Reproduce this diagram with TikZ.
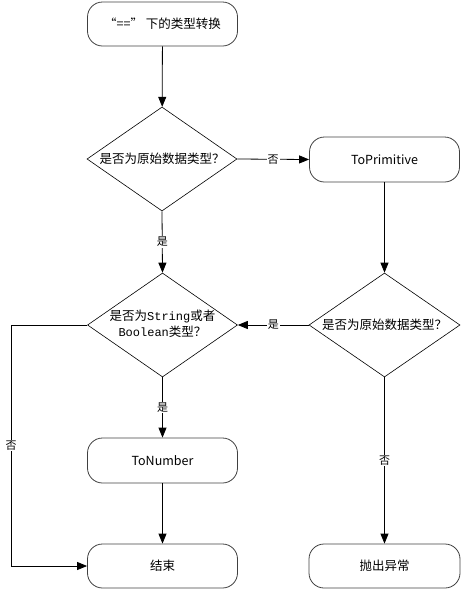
\documentclass[tikz,border=0pt]{standalone}
\usepackage{fontspec}
\setmainfont{Noto Sans CJK SC}
\newfontfamily\monofont{Liberation Mono}
\usetikzlibrary{shapes.geometric,arrows.meta}
\tikzset{
  x=1pt,y=-1pt,
  every node/.style={font=\fontsize{12.5}{15}\selectfont},
  rbox/.style={draw=black!75,line width=0.8pt,rounded corners=15pt,minimum width=150pt,minimum height=44pt,inner sep=0pt},
  dbox/.style={draw=black,line width=0.6pt,shape=diamond,minimum width=150pt,minimum height=104pt,inner sep=0pt},
  conn/.style={draw=black,line width=0.8pt,-{Triangle[length=10pt,width=8pt]}},
  lab/.style={fill=white,inner sep=1pt,font=\fontsize{11}{12}\selectfont}
}
\begin{document}
\begin{tikzpicture}
\useasboundingbox (0,0) rectangle (461,590);
\node[rbox] (start) at (162.5,24) {“==” 下的类型转换};
\node[dbox] (d1) at (162,159) {\makebox[0pt]{是否为原始数据类型？}};
\node[rbox,minimum height=45pt] (prim) at (384.5,159.5) {ToPrimitive};
\node[dbox] (d2) at (162.5,325) {\makebox[0pt]{\begin{tabular}{@{}c@{}}是否为{\fontsize{12}{15}\monofont String}或者\\[1pt]{\fontsize{12}{15}\monofont Boolean}类型？\end{tabular}}};
\node[dbox,minimum width=151pt] (d3) at (384.5,325) {\makebox[0pt]{是否为原始数据类型？}};
\node[rbox,minimum height=45pt] (num) at (162.5,460.5) {ToNumber};
\node[rbox] (end) at (162.5,566) {结束};
\node[rbox,minimum width=151pt] (err) at (384.5,566) {抛出异常};
\coordinate (c1) at (11,325);
\coordinate (c2) at (11,566);

\draw[conn] (start) -- (d1);
\draw[conn] (d1.east) -- node[lab] {否} (prim.west);
\draw[conn] (d1.south) -- node[lab] {是} (d2.north);
\draw[conn] (prim) -- (d3.north);
\draw[conn] (d3.west) -- node[lab] {是} (d2.east);
\draw[conn] (d2.south) -- node[lab] {是} (num.north);
\draw[conn] (num) -- (end);
\draw[conn] (d2.west) -- (c1) -- node[lab] {否} (c2) -- (end.west);
\draw[conn] (d3.south) -- node[lab] {否} (err.north);
\end{tikzpicture}
\end{document}
